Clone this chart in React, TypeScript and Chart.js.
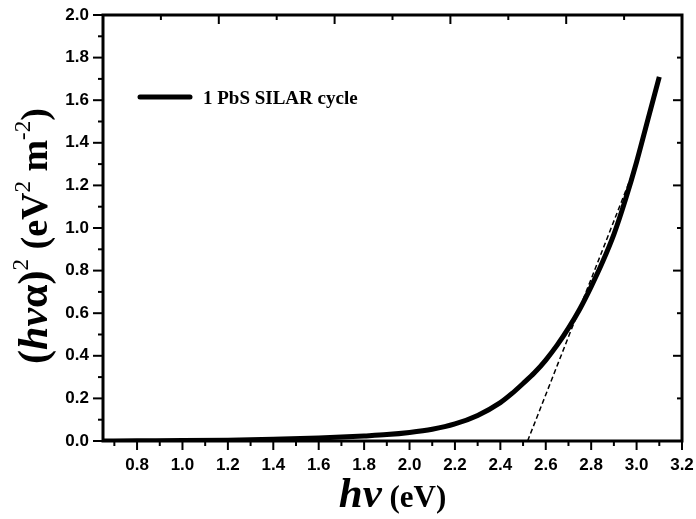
import React, { useEffect, useRef } from "react";
import { Chart, registerables } from "chart.js";

Chart.register(...registerables);

// Measured curve: (hν, (hνα)^2)
const photonEnergy = [0.65, 0.8, 1.0, 1.2, 1.4, 1.6, 1.8, 1.9, 2.0, 2.1, 2.2, 2.3, 2.4, 2.45, 2.5, 2.55, 2.6, 2.65, 2.7, 2.75, 2.8, 2.85, 2.9, 2.95, 3.0, 3.05, 3.1];
const absorptionSq = [0.0, 0.001, 0.002, 0.004, 0.008, 0.014, 0.024, 0.03, 0.04, 0.055, 0.08, 0.12, 0.18, 0.222, 0.27, 0.32, 0.38, 0.45, 0.53, 0.62, 0.725, 0.84, 0.97, 1.13, 1.31, 1.51, 1.71];

// Tangent (band-gap extrapolation) line
const tangentX = [2.52, 2.98];
const tangentY = [0.0, 1.25];

// Axis ticks
const xMajorTicks = [0.8, 1.0, 1.2, 1.4, 1.6, 1.8, 2.0, 2.2, 2.4, 2.6, 2.8, 3.0, 3.2];
const xMinorTicks = [0.7, 0.9, 1.1, 1.3, 1.5, 1.7, 1.9, 2.1, 2.3, 2.5, 2.7, 2.9, 3.1];
const yMajorTicks = [0.0, 0.2, 0.4, 0.6, 0.8, 1.0, 1.2, 1.4, 1.6, 1.8, 2.0];
const yMinorTicks = [0.1, 0.3, 0.5, 0.7, 0.9, 1.1, 1.3, 1.5, 1.7, 1.9];

const X_MIN = 0.65;
const X_MAX = 3.2;
const Y_MIN = 0;
const Y_MAX = 2.0;

const legendLabel = "1 PbS SILAR cycle";

type Seg = { t: string; font: string; dy?: number };

function drawRich(ctx: CanvasRenderingContext2D, segs: Seg[], cx: number, baseY: number) {
  let total = 0;
  const widths = segs.map((s) => {
    ctx.font = s.font;
    const w = ctx.measureText(s.t).width;
    total += w;
    return w;
  });
  let x = cx - total / 2;
  segs.forEach((s, i) => {
    ctx.font = s.font;
    ctx.fillText(s.t, x, baseY + (s.dy || 0));
    x += widths[i];
  });
}

const framePlugin = {
  id: "framePlugin",
  afterDraw(chart: any) {
    const ctx: CanvasRenderingContext2D = chart.ctx;
    const { left, right, top, bottom } = chart.chartArea;
    const xs = chart.scales.x;
    const ys = chart.scales.y;
    ctx.save();
    ctx.strokeStyle = "#000";
    ctx.fillStyle = "#000";
    ctx.lineCap = "butt";

    ctx.lineWidth = 2;
    const line = (x1: number, y1: number, x2: number, y2: number) => {
      ctx.beginPath();
      ctx.moveTo(x1, y1);
      ctx.lineTo(x2, y2);
      ctx.stroke();
    };
    xMajorTicks.forEach((v) => {
      const px = xs.getPixelForValue(v);
      line(px, bottom, px, bottom + 9);
    });
    xMinorTicks.forEach((v) => {
      const px = xs.getPixelForValue(v);
      line(px, bottom, px, bottom + 5);
    });
    yMajorTicks.forEach((v) => {
      const py = ys.getPixelForValue(v);
      line(left, py, left - 10, py);
    });
    yMinorTicks.forEach((v) => {
      const py = ys.getPixelForValue(v);
      line(left, py, left - 5, py);
    });
    // top and right mirror ticks (inward), 10 divisions
    for (let k = 1; k < 10; k++) {
      const vx = X_MIN + ((X_MAX - X_MIN) * k) / 10;
      const px = xs.getPixelForValue(vx);
      line(px, top, px, top + (k % 2 === 0 ? 9 : 5));
      const vy = Y_MIN + ((Y_MAX - Y_MIN) * k) / 10;
      const py = ys.getPixelForValue(vy);
      line(right, py, right - (k % 2 === 0 ? 9 : 5), py);
    }

    // frame
    ctx.lineWidth = 3;
    ctx.strokeRect(left, top, right - left, bottom - top);

    // legend
    ctx.lineWidth = 5;
    ctx.lineCap = "round";
    line(140, 97, 190, 97);
    ctx.font = "bold 19px 'Liberation Serif'";
    ctx.textAlign = "left";
    ctx.textBaseline = "alphabetic";
    ctx.fillText(legendLabel, 203, 104);

    // x title
    const cx = (left + right) / 2;
    drawRich(
      ctx,
      [
        { t: "hν", font: "italic bold 43px 'Liberation Serif'" },
        { t: " (eV)", font: "bold 31px 'Liberation Serif'" },
      ],
      cx,
      507
    );

    // y title (rotated)
    ctx.save();
    ctx.translate(47, 236);
    ctx.rotate(-Math.PI / 2);
    drawRich(
      ctx,
      [
        { t: "(", font: "bold 42px 'Liberation Serif'" },
        { t: "hν", font: "italic bold 42px 'Liberation Serif'" },
        { t: "α", font: "bold 42px 'Liberation Serif'" },
        { t: ")", font: "bold 42px 'Liberation Serif'" },
        { t: "2", font: "23px 'Liberation Serif'", dy: -19 },
        { t: " (eV", font: "bold 38px 'Liberation Serif'" },
        { t: "2", font: "23px 'Liberation Serif'", dy: -17 },
        { t: " m", font: "bold 38px 'Liberation Serif'" },
        { t: "-2", font: "23px 'Liberation Serif'", dy: -17 },
        { t: ")", font: "bold 38px 'Liberation Serif'" },
      ],
      0,
      0
    );
    ctx.restore();

    ctx.restore();
  },
};

export default function App() {
  const ref = useRef<HTMLCanvasElement | null>(null);

  useEffect(() => {
    document.body.style.margin = "0";
    if (!ref.current) return;
    const curve = photonEnergy.map((x, i) => ({ x, y: absorptionSq[i] }));
    const tangent = tangentX.map((x, i) => ({ x, y: tangentY[i] }));
    const chart = new Chart(ref.current, {
      type: "line",
      data: {
        datasets: [
          {
            label: legendLabel,
            data: curve,
            borderColor: "#000",
            borderWidth: 5,
            pointRadius: 0,
            cubicInterpolationMode: "monotone",
            fill: false,
          },
          {
            label: "tangent",
            data: tangent,
            borderColor: "#000",
            borderWidth: 1.5,
            borderDash: [5, 3],
            pointRadius: 0,
            fill: false,
          },
        ],
      },
      options: {
        animation: false,
        responsive: false,
        maintainAspectRatio: false,
        layout: { padding: { top: 15, right: 14, left: 0, bottom: 0 } },
        plugins: { legend: { display: false }, tooltip: { enabled: false } },
        scales: {
          x: {
            type: "linear",
            min: X_MIN,
            max: X_MAX,
            grid: { display: false, drawTicks: false },
            border: { display: false },
            afterBuildTicks: (scale: any) => {
              scale.ticks = xMajorTicks.map((v) => ({ value: v }));
            },
            afterFit: (scale: any) => {
              scale.height = 78;
              scale.paddingLeft = 0;
              scale.paddingRight = 0;
              scale.paddingTop = 0;
              scale.paddingBottom = 0;
            },
            ticks: {
              color: "#000",
              padding: 14,
              maxRotation: 0,
              autoSkip: false,
              font: { family: "'Liberation Sans'", weight: "bold", size: 17 },
              callback: (v: any) => Number(v).toFixed(1),
            },
          },
          y: {
            type: "linear",
            min: Y_MIN,
            max: Y_MAX,
            grid: { display: false, drawTicks: false },
            border: { display: false },
            afterBuildTicks: (scale: any) => {
              scale.ticks = yMajorTicks.map((v) => ({ value: v }));
            },
            afterFit: (scale: any) => {
              scale.width = 103;
              scale.paddingLeft = 0;
              scale.paddingRight = 0;
              scale.paddingTop = 0;
              scale.paddingBottom = 0;
            },
            ticks: {
              color: "#000",
              padding: 14,
              autoSkip: false,
              font: { family: "'Liberation Sans'", weight: "bold", size: 17 },
              callback: (v: any) => Number(v).toFixed(1),
            },
          },
        },
      },
      plugins: [framePlugin],
    });
    return () => chart.destroy();
  }, []);

  return (
    <div style={{ width: 696, height: 519, background: "#fff" }}>
      <canvas ref={ref} width={696} height={519} style={{ display: "block" }} />
    </div>
  );
}
